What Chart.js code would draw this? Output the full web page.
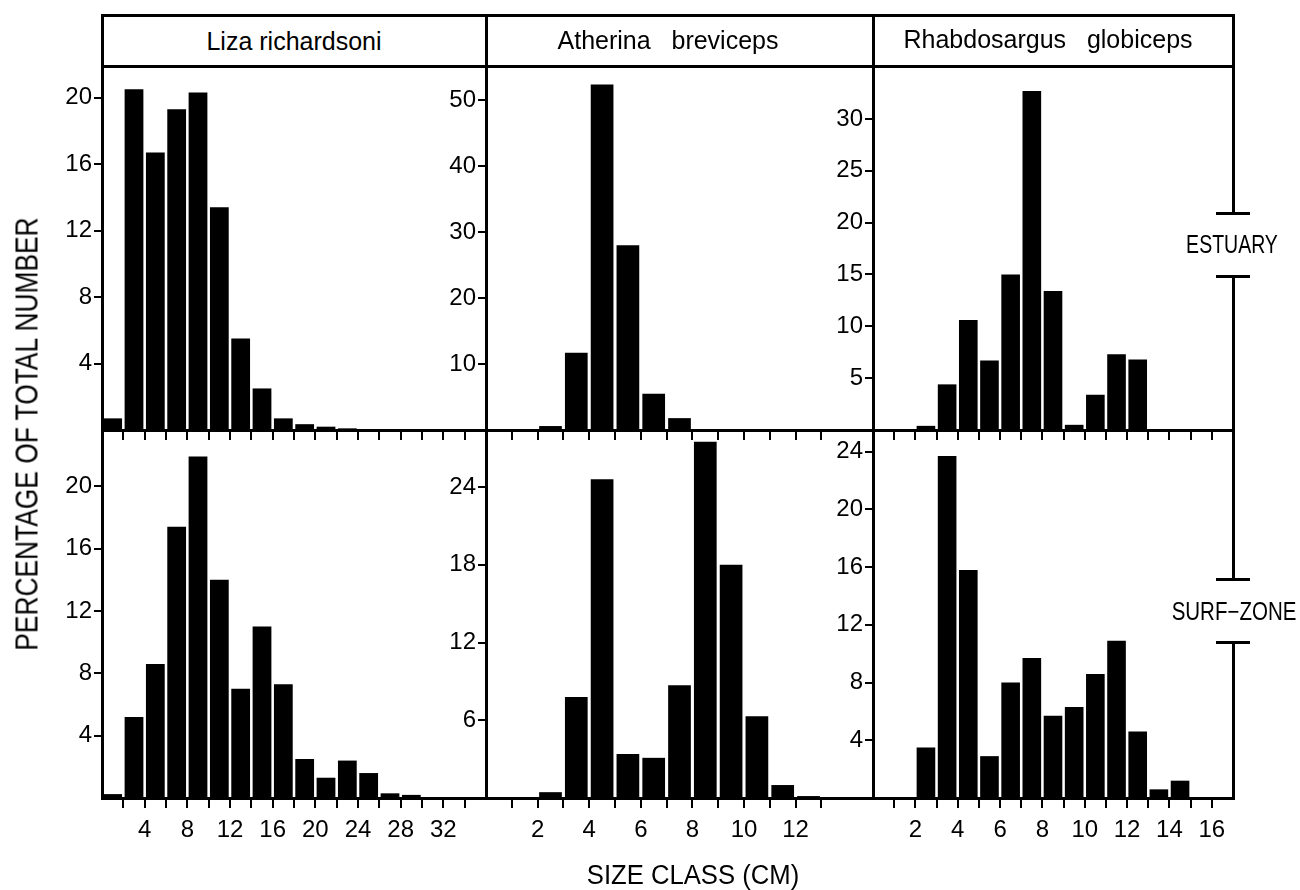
<!DOCTYPE html>
<html>
<head>
<meta charset="utf-8">
<script src="https://cdn.jsdelivr.net/npm/chart.js@4.4.1/dist/chart.umd.min.js"></script>
<style>
  body { margin: 0; background: #fff; }
  #fig { position: relative; width: 1300px; height: 890px; font-family: 'Liberation Sans', Arial, sans-serif; color: #000; }
  #fig canvas { position: absolute; }
  .ln { position: absolute; background: #000; }
  .txt { position: absolute; white-space: pre; line-height: 1; }
</style>
</head>
<body>
<div id="fig">
  <canvas id="c11"></canvas><canvas id="c12"></canvas><canvas id="c13"></canvas>
  <canvas id="c21"></canvas><canvas id="c22"></canvas><canvas id="c23"></canvas>
</div>
<script>
// size classes (class mid-points, cm) and percentage of total number
const lizaSize = [1, 3, 5, 7, 9, 11, 13, 15, 17, 19, 21, 23, 25, 27, 29];
const lizaEstuary = [0.7, 20.5, 16.7, 19.3, 20.3, 13.4, 5.5, 2.5, 0.7, 0.35, 0.2, 0.1, 0, 0, 0];
const lizaSurf = [0.25, 5.2, 8.6, 17.4, 21.9, 14.0, 7.0, 11.0, 7.3, 2.5, 1.3, 2.4, 1.6, 0.3, 0.2];

const athSize = [1.5, 2.5, 3.5, 4.5, 5.5, 6.5, 7.5, 8.5, 9.5, 10.5, 11.5, 12.5];
const athEstuary = [0, 0.6, 11.7, 52.4, 28.0, 5.5, 1.8, 0, 0, 0, 0, 0];
const athSurf = [0, 0.45, 7.8, 24.6, 3.4, 3.1, 8.7, 27.5, 18.0, 6.3, 1.0, 0.15];

const rhaSize = [0.5, 1.5, 2.5, 3.5, 4.5, 5.5, 6.5, 7.5, 8.5, 9.5, 10.5, 11.5, 12.5, 13.5, 14.5, 15.5];
const rhaEstuary = [0, 0, 0.4, 4.4, 10.6, 6.7, 15.0, 32.7, 13.4, 0.5, 3.4, 7.3, 6.8, 0, 0, 0];
const rhaSurf = [0, 0, 3.5, 23.7, 15.8, 2.9, 8.0, 9.7, 5.7, 6.3, 8.6, 10.9, 4.6, 0.6, 1.2, 0];

// tick labels
const lizaXTicks = [4, 8, 12, 16, 20, 24, 28, 32];
const athXTicks = [2, 4, 6, 8, 10, 12];
const rhaXTicks = [2, 4, 6, 8, 10, 12, 14, 16];
const lizaEstYTicks = [4, 8, 12, 16, 20];
const athEstYTicks = [10, 20, 30, 40, 50];
const rhaEstYTicks = [5, 10, 15, 20, 25, 30];
const lizaSurfYTicks = [4, 8, 12, 16, 20];
const athSurfYTicks = [6, 12, 18, 24];
const rhaSurfYTicks = [4, 8, 12, 16, 20, 24];

const titles = ['Liza richardsoni', 'Atherina   breviceps', 'Rhabdosargus   globiceps'];

// frame
const colX = [102, 486, 873, 1233];
const rowY = [66, 430, 798];
const headTop = 15;
const AXW = 60; // room for y tick labels

const fig = document.getElementById('fig');
function line(x, y, w, h) {
  const d = document.createElement('div');
  d.className = 'ln';
  d.style.left = x + 'px'; d.style.top = y + 'px';
  d.style.width = w + 'px'; d.style.height = h + 'px';
  fig.appendChild(d);
}
function text(str, cx, cy, size, tf) {
  const d = document.createElement('div');
  d.className = 'txt';
  d.textContent = str;
  d.style.left = cx + 'px'; d.style.top = cy + 'px';
  d.style.fontSize = size + 'px';
  d.style.transform = 'translate(-50%,-50%) ' + (tf || '');
  fig.appendChild(d);
}

// header boxes
line(colX[0] - 1.5, headTop - 1.5, colX[3] - colX[0] + 3, 3);
line(colX[0] - 1.5, rowY[0] - 1.5, colX[3] - colX[0] + 3, 3);
for (let i = 0; i < 3; i++) line(colX[i] - 1.5, headTop - 1.5, 3, rowY[0] - headTop + 3);
text(titles[0], 294, 41, 25);
text(titles[1], 668, 40, 25);
text(titles[2], 1048, 39, 25);

// right side brackets
line(colX[3] - 1.5, headTop - 1.5, 3, 213 - headTop + 3);
line(colX[3] - 1.5, 276, 3, 579 - 276);
line(colX[3] - 1.5, 642, 3, rowY[2] - 642 + 1.5);
[213, 276, 579, 642].forEach(y => line(1216, y - 1.5, 34, 3));
text('ESTUARY', 1232, 244, 25, 'scaleX(0.78)');
text('SURF\u2212ZONE', 1234, 611, 25, 'scaleX(0.82)');

// axis titles
text('PERCENTAGE OF TOTAL NUMBER', 27, 434, 31, 'rotate(-90deg) scaleX(0.85)');
text('SIZE CLASS (CM)', 693, 875, 27, 'scaleX(0.95)');

function panel(id, col, row, sizes, values, xMax, xStep, xMarkMax, xLabels, yMax, yStep, yLabels) {
  const left = colX[col], top = rowY[row];
  const w = colX[col + 1] - left, h = rowY[row + 1] - top;
  const bottomRow = row === 1;
  const axH = bottomRow ? 60 : 15;
  const cv = document.getElementById(id);
  cv.width = w + AXW; cv.height = h + axH;
  cv.style.left = (left - AXW) + 'px'; cv.style.top = top + 'px';

  const xMark = v => v > 0 && v <= xMarkMax;
  const yMark = v => yLabels.includes(v);
  const markColor = f => ctx => (ctx.tick && f(ctx.tick.value)) ? '#000' : 'rgba(0,0,0,0)';

  new Chart(cv, {
    type: 'bar',
    data: {
      datasets: [{
        data: sizes.map((s, i) => ({ x: s, y: values[i] })),
        backgroundColor: '#000',
        borderWidth: 0,
        barPercentage: 0.88,
        categoryPercentage: 1
      }]
    },
    options: {
      responsive: false,
      animation: false,
      events: [],
      layout: { padding: 0 },
      plugins: { legend: { display: false }, tooltip: { enabled: false } },
      scales: {
        x: {
          type: 'linear', min: 0, max: xMax, offset: false,
          border: { display: true, color: '#000', width: 3 },
          grid: { offset: false, drawOnChartArea: false, drawTicks: true, tickLength: 10, lineWidth: 2,
                  color: markColor(xMark), tickColor: markColor(xMark) },
          ticks: {
            stepSize: xStep, includeBounds: false, autoSkip: false, maxRotation: 0, minRotation: 0,
            padding: 8, color: '#000', font: { family: "'Liberation Sans', Arial, sans-serif", size: 24 },
            callback: v => (bottomRow && xLabels.includes(v)) ? String(v) : ''
          },
          afterFit: s => { s.height = axH; s.paddingLeft = 0; s.paddingRight = 0; s.paddingTop = 0; s.paddingBottom = 0; }
        },
        y: {
          type: 'linear', min: 0, max: yMax,
          border: { display: true, color: '#000', width: 3 },
          grid: { drawOnChartArea: false, drawTicks: true, tickLength: 8, lineWidth: 2,
                  color: markColor(yMark), tickColor: markColor(yMark) },
          ticks: {
            stepSize: yStep, includeBounds: false, autoSkip: false, padding: 2, color: '#000',
            font: { family: "'Liberation Sans', Arial, sans-serif", size: 24 },
            callback: v => yLabels.includes(v) ? String(v) : ''
          },
          afterFit: s => { s.width = AXW; s.paddingLeft = 0; s.paddingRight = 0; s.paddingTop = 0; s.paddingBottom = 0; }
        }
      }
    }
  });
}

panel('c11', 0, 0, lizaSize, lizaEstuary, 36, 2, 34, lizaXTicks, 21.9, 4, lizaEstYTicks);
panel('c12', 1, 0, athSize, athEstuary, 15, 1, 13, athXTicks, 55.2, 10, athEstYTicks);
panel('c13', 2, 0, rhaSize, rhaEstuary, 17, 1, 16, rhaXTicks, 35.1, 5, rhaEstYTicks);
panel('c21', 0, 1, lizaSize, lizaSurf, 36, 2, 34, lizaXTicks, 23.6, 4, lizaSurfYTicks);
panel('c22', 1, 1, athSize, athSurf, 15, 1, 13, athXTicks, 28.4, 6, athSurfYTicks);
panel('c23', 2, 1, rhaSize, rhaSurf, 17, 1, 16, rhaXTicks, 25.5, 4, rhaSurfYTicks);
</script>
</body>
</html>
